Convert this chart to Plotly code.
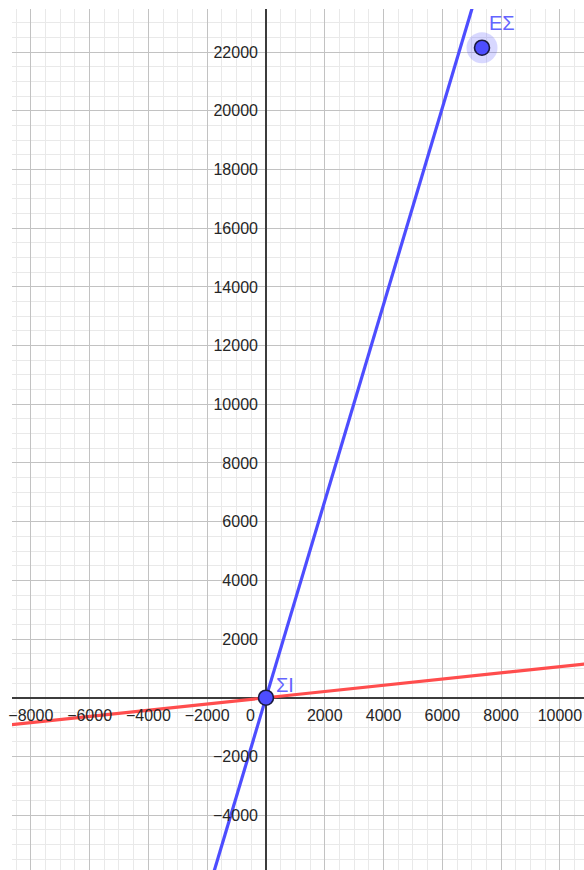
import plotly.graph_objects as go

# Visible window of the coordinate plane
x_range = [-8640, 10820]
y_range = [-5870, 23470]

# Tick labels along the axes (0 is written once, next to the origin)
x_ticks = [-8000, -6000, -4000, -2000, 2000, 4000, 6000, 8000, 10000]
y_ticks = [-4000, -2000, 2000, 4000, 6000, 8000, 10000, 12000, 14000,
           16000, 18000, 20000, 22000]

# Two points on each straight line (both lines pass through the origin)
blue_line_x = [-2000, 7200]
blue_line_y = [-6700, 24120]
red_line_x = [-9000, 11000]
red_line_y = [-954, 1166]

# Named points
point_names = ["ΣΙ", "ΕΣ"]
point_x = [0, 7350]
point_y = [0, 22150]

BLUE = "#4d4dff"
RED = "#ff4d4d"
LABEL_BLUE = "#6464ff"
MAJOR_GRID = "#c2c2c2"
MINOR_GRID = "#e9e9e9"
AXIS_COLOR = "#3c3c3c"
TICK_FONT = dict(family="Liberation Sans, Arial, sans-serif", size=16, color="#262626")


def tick_label(v):
    return ("\u2212" if v < 0 else "") + str(abs(v))


fig = go.Figure()

fig.add_trace(go.Scatter(
    x=red_line_x, y=red_line_y, mode="lines",
    line=dict(color=RED, width=3.2), hoverinfo="skip", showlegend=False,
))
fig.add_trace(go.Scatter(
    x=blue_line_x, y=blue_line_y, mode="lines",
    line=dict(color=BLUE, width=3.2), hoverinfo="skip", showlegend=False,
))

# Highlight halo around ΕΣ
fig.add_trace(go.Scatter(
    x=[point_x[1]], y=[point_y[1]], mode="markers",
    marker=dict(size=31, color="rgba(77,77,255,0.22)", line=dict(width=0)),
    hoverinfo="skip", showlegend=False,
))
fig.add_trace(go.Scatter(
    x=point_x, y=point_y, mode="markers",
    marker=dict(size=15, color=BLUE, line=dict(color="#1a1a40", width=1.6)),
    text=point_names, hoverinfo="text", showlegend=False,
))

# Point labels
label_offsets = {"ΣΙ": (8, 0), "ΕΣ": (5, 12)}
for name, px, py in zip(point_names, point_x, point_y):
    dx, dy = label_offsets[name]
    fig.add_annotation(
        x=px, y=py, text=name, showarrow=False,
        xanchor="left", yanchor="bottom", xshift=dx, yshift=dy,
        font=dict(family="Liberation Sans, Arial, sans-serif", size=20, color=LABEL_BLUE),
    )

# Single "0" label at the origin
fig.add_annotation(
    x=0, y=0, text="0", showarrow=False,
    xanchor="right", yanchor="top", xshift=-9, yshift=-7,
    font=TICK_FONT,
)

x_zero_pos = (0 - y_range[0]) / (y_range[1] - y_range[0])
y_zero_pos = (0 - x_range[0]) / (x_range[1] - x_range[0])

fig.update_layout(
    width=584, height=870,
    margin=dict(l=12, r=0, t=9, b=0),
    paper_bgcolor="white", plot_bgcolor="white",
    xaxis=dict(
        range=x_range, anchor="free", position=x_zero_pos,
        tickmode="array", tickvals=x_ticks,
        ticktext=[tick_label(v) for v in x_ticks], tickfont=TICK_FONT,
        ticks="", ticklabelstandoff=6, showline=False,
        showgrid=True, gridcolor=MAJOR_GRID, gridwidth=1,
        zeroline=True, zerolinecolor=AXIS_COLOR, zerolinewidth=2,
        minor=dict(tickmode="linear", tick0=0, dtick=500, showgrid=True,
                   gridcolor=MINOR_GRID, gridwidth=1),
        fixedrange=True,
    ),
    yaxis=dict(
        range=y_range, anchor="free", position=y_zero_pos,
        tickmode="array", tickvals=y_ticks,
        ticktext=[tick_label(v) for v in y_ticks], tickfont=TICK_FONT,
        ticks="", ticklabelstandoff=8, showline=False,
        showgrid=True, gridcolor=MAJOR_GRID, gridwidth=1,
        zeroline=True, zerolinecolor=AXIS_COLOR, zerolinewidth=2,
        minor=dict(tickmode="linear", tick0=0, dtick=500, showgrid=True,
                   gridcolor=MINOR_GRID, gridwidth=1),
        fixedrange=True,
    ),
)

fig.write_html("out.html")
